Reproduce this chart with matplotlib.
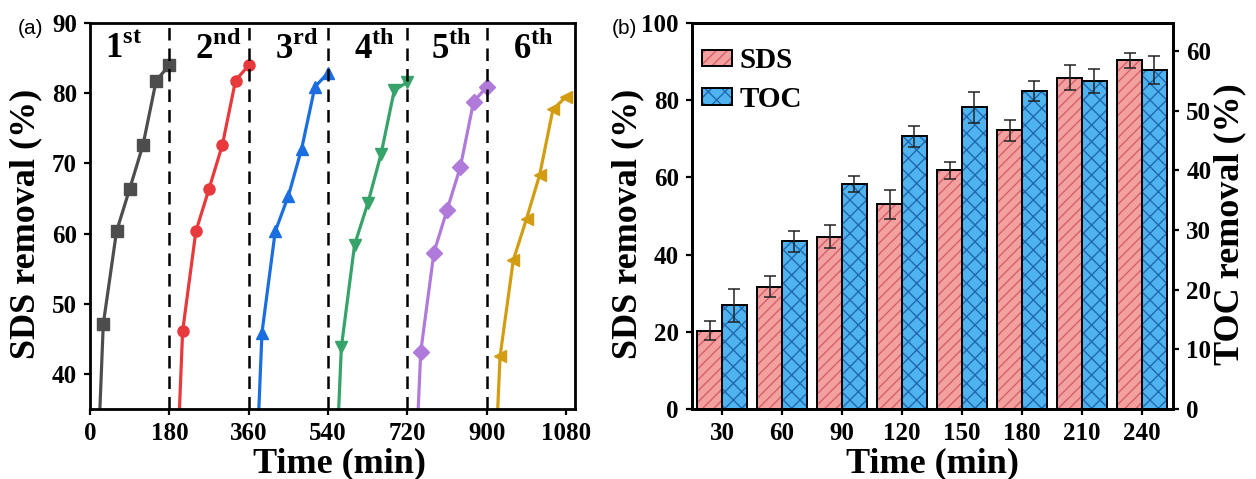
import numpy as np
import matplotlib.pyplot as plt
from matplotlib.patches import Patch

plt.rcParams['font.family'] = 'Liberation Serif'
plt.rcParams['font.weight'] = 'bold'
plt.rcParams['axes.labelweight'] = 'bold'
plt.rcParams['mathtext.fontset'] = 'custom'
plt.rcParams['mathtext.bf'] = 'Liberation Serif:bold'
plt.rcParams['mathtext.rm'] = 'Liberation Serif:bold'
plt.rcParams['hatch.linewidth'] = 1.0

# (a) SDS removal over six reuse cycles, 180 min each
t_ciclo = [0, 30, 60, 90, 120, 150, 180]
rem_c1 = [0, 47.1, 60.3, 66.4, 72.6, 81.8, 84.0]
rem_c2 = [0, 46.1, 60.3, 66.4, 72.6, 81.8, 84.0]
rem_c3 = [0, 45.9, 60.3, 65.4, 72.1, 80.9, 82.9]
rem_c4 = [0, 43.8, 58.4, 64.3, 71.3, 80.4, 81.6]
rem_c5 = [0, 43.1, 57.3, 63.4, 69.5, 78.8, 80.9]
rem_c6 = [0, 42.5, 56.2, 62.1, 68.4, 77.7, 79.5]
ciclos = [rem_c1, rem_c2, rem_c3, rem_c4, rem_c5, rem_c6]
cores = ['#4d4d4d', '#e8393c', '#1a6ee0', '#36a46a', '#b07ada', '#d29d12']
marcadores = ['s', 'o', '^', 'v', 'D', '<']
rotulos = [r'$\mathbf{1}^{\mathbf{st}}$', r'$\mathbf{2}^{\mathbf{nd}}$',
           r'$\mathbf{3}^{\mathbf{rd}}$', r'$\mathbf{4}^{\mathbf{th}}$',
           r'$\mathbf{5}^{\mathbf{th}}$', r'$\mathbf{6}^{\mathbf{th}}$']
rotulo_x = [75, 290, 470, 645, 820, 1005]

# (b) SDS and TOC removal in a single run
tempo = [30, 60, 90, 120, 150, 180, 210, 240]
sds = [20.3, 31.7, 44.6, 53.0, 61.8, 72.2, 85.8, 90.3]
sds_err = [2.5, 2.8, 3.0, 3.8, 2.2, 2.7, 3.2, 2.0]
toc = [17.4, 28.1, 37.7, 45.7, 50.6, 53.3, 55.0, 56.8]
toc_err = [2.8, 1.7, 1.3, 1.8, 2.6, 1.7, 2.0, 2.4]

fig = plt.figure(figsize=(12.56, 4.79), dpi=100)
ax1 = fig.add_axes([0.0717, 0.146, 0.3861, 0.806])
ax2 = fig.add_axes([0.551, 0.146, 0.383, 0.806])


def estilo(ax):
    for s in ax.spines.values():
        s.set_linewidth(2.0)
    ax.tick_params(direction='out', length=4.5, width=1.6, labelsize=18)
    ax.tick_params(axis='x', pad=5)
    ax.tick_params(axis='y', pad=5)


# painel (a)
for k, rem in enumerate(ciclos):
    x = np.array(t_ciclo) + 180 * k
    ax1.plot(x, rem, color=cores[k], marker=marcadores[k], ms=8, lw=2.3)
    ax1.text(rotulo_x[k], 86.2, rotulos[k], fontsize=25, ha='center',
             va='center')
for xv in [180, 360, 540, 720, 900]:
    ax1.axvline(xv, color='k', ls=(0, (5, 3.2)), lw=1.8)
ax1.set_xlim(0, 1100)
ax1.set_ylim(35, 90)
ax1.set_xticks(np.arange(0, 1081, 180))
ax1.set_yticks(np.arange(40, 91, 10))
estilo(ax1)
ax1.set_xlabel('Time (min)', fontsize=26)
ax1.set_ylabel('SDS removal (%)', fontsize=26)
ax1.xaxis.set_label_coords(0.515, -0.1)
ax1.yaxis.set_label_coords(-0.099, 0.48)

# painel (b)
w = 12.3
t = np.array(tempo)
ax2.bar(t - w / 2, sds, w, color='#f3a0a0', edgecolor='#d8606a', lw=0,
        hatch='///', zorder=2)
ax2.bar(t - w / 2, sds, w, fill=False, edgecolor='k', lw=1.4, zorder=3)
ax2.errorbar(t - w / 2, sds, yerr=sds_err, fmt='none', ecolor='#222222',
             elinewidth=1.1, capsize=4, capthick=1.1, zorder=4)
ax2.set_xlim(15, 255.5)
ax2.set_ylim(0, 100)
ax2.set_xticks(tempo)
ax2.set_yticks(np.arange(0, 101, 20))
estilo(ax2)
ax2.set_xlabel('Time (min)', fontsize=26)
ax2.set_ylabel('SDS removal (%)', fontsize=26)
ax2.xaxis.set_label_coords(0.5, -0.1)
ax2.yaxis.set_label_coords(-0.1, 0.48)

ax3 = ax2.twinx()
ax3.bar(t + w / 2, toc, w, color='#4fb3ef', edgecolor='#2068b0', lw=0,
        hatch='xx', zorder=2)
ax3.bar(t + w / 2, toc, w, fill=False, edgecolor='k', lw=1.4, zorder=3)
ax3.errorbar(t + w / 2, toc, yerr=toc_err, fmt='none', ecolor='#222222',
             elinewidth=1.1, capsize=4, capthick=1.1, zorder=4)
ax3.set_ylim(0, 64.7)
ax3.set_yticks(np.arange(0, 61, 10))
estilo(ax3)
ax3.set_ylabel('TOC removal (%)', fontsize=26)
ax3.yaxis.set_label_coords(1.083, 0.48)

h_sds = (Patch(facecolor='#f3a0a0', edgecolor='#d8606a', lw=0, hatch='///'),
         Patch(fill=False, edgecolor='k', lw=1.4))
h_toc = (Patch(facecolor='#4fb3ef', edgecolor='#2068b0', lw=0, hatch='xx'),
         Patch(fill=False, edgecolor='k', lw=1.4))
ax3.legend([h_sds, h_toc], ['SDS', 'TOC'], loc='upper left',
           bbox_to_anchor=(0.02, 0.937), frameon=False, fontsize=21,
           handlelength=1.05, handleheight=0.5, handletextpad=0.25,
           labelspacing=0.4, borderpad=0, borderaxespad=0)

fig.text(0.0143, 0.94, '(a)', fontsize=15, family='Liberation Sans',
         weight='normal', va='center')
fig.text(0.487, 0.94, '(b)', fontsize=15, family='Liberation Sans',
         weight='normal', va='center')

fig.savefig('out.png', dpi=100)
